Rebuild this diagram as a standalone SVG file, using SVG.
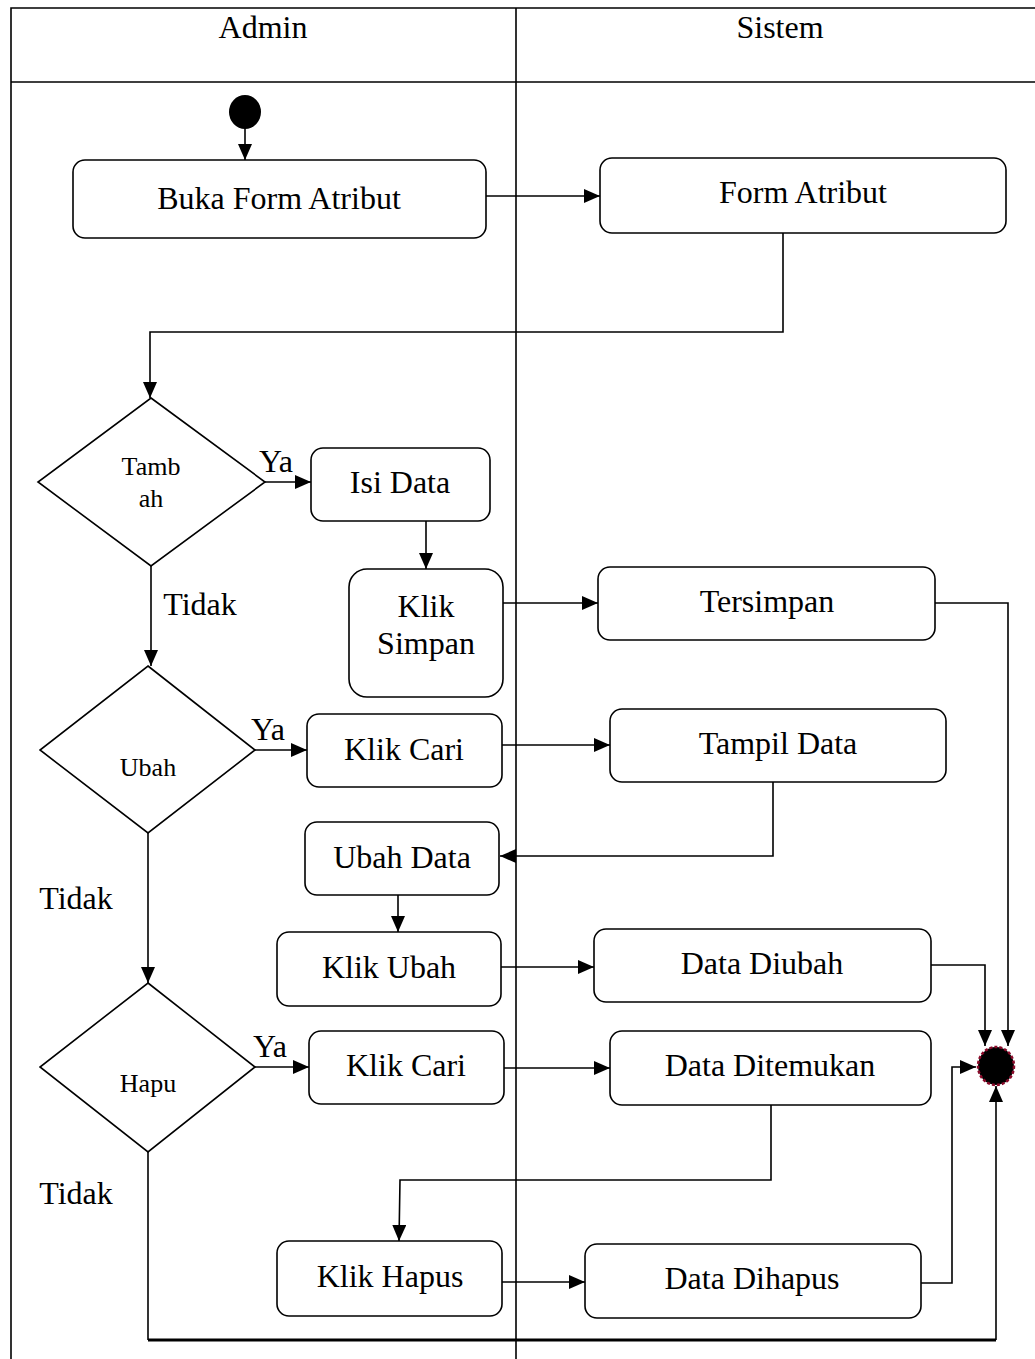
<svg xmlns="http://www.w3.org/2000/svg" width="1035" height="1359" viewBox="0 0 1035 1359">
<style>
.t{font-family:"Liberation Serif","Times New Roman",serif;font-size:32px;fill:#000;text-anchor:middle}
.s{font-size:26px}
.b{fill:#fff;stroke:#000;stroke-width:1.6}
.c{fill:none;stroke:#000;stroke-width:1.6}
.lane{fill:none;stroke:#000;stroke-width:1.6}
</style>
<defs>
<marker id="ar" markerUnits="userSpaceOnUse" markerWidth="16" markerHeight="14" refX="16" refY="7" orient="auto">
<path d="M0,0 L16,7 L0,14 Z" fill="#000"/>
</marker>
</defs>
<rect width="1035" height="1359" fill="#fff"/>
<g id="lanes">
<path class="lane" d="M11,1359 V8 H1035 M11,82 H1035 M516,8 V1359"/>
<text class="t" x="263" y="38">Admin</text>
<text class="t" x="780" y="38">Sistem</text>
</g>
<g id="connectors">
<path class="c" d="M245,128 V160" marker-end="url(#ar)"/>
<path class="c" d="M486,196 H600" marker-end="url(#ar)"/>
<path class="c" d="M783,233 V332 H150 V398" marker-end="url(#ar)"/>
<path class="c" d="M265,482 H311" marker-end="url(#ar)"/>
<path class="c" d="M426,521 V569" marker-end="url(#ar)"/>
<path class="c" d="M503,603 H598" marker-end="url(#ar)"/>
<path class="c" d="M935,603 H1008 V1046" marker-end="url(#ar)"/>
<path class="c" d="M151,566 V666" marker-end="url(#ar)"/>
<path class="c" d="M255,750 H307" marker-end="url(#ar)"/>
<path class="c" d="M502,745 H610" marker-end="url(#ar)"/>
<path class="c" d="M773,782 V856 H500" marker-end="url(#ar)"/>
<path class="c" d="M398,895 V932" marker-end="url(#ar)"/>
<path class="c" d="M501,967 H594" marker-end="url(#ar)"/>
<path class="c" d="M931,965 H985 V1046" stroke-width="2.2" marker-end="url(#ar)"/>
<path class="c" d="M148,833 V983" marker-end="url(#ar)"/>
<path class="c" d="M255,1067 H309" marker-end="url(#ar)"/>
<path class="c" d="M504,1068 H610" marker-end="url(#ar)"/>
<path class="c" d="M771,1105 V1180 H400 L399,1241" marker-end="url(#ar)"/>
<path class="c" d="M502,1282 H585" marker-end="url(#ar)"/>
<path class="c" d="M921,1283 H952 V1067 H976" marker-end="url(#ar)"/>
<path class="c" d="M148,1152 V1340" />
<path d="M148,1340 H996" fill="none" stroke="#000" stroke-width="3"/>
<path class="c" d="M996,1340 V1086" marker-end="url(#ar)"/>
<text class="t" x="276" y="472">Ya</text>
<text class="t" x="200" y="615">Tidak</text>
<text class="t" x="268" y="740">Ya</text>
<text class="t" x="76" y="909">Tidak</text>
<text class="t" x="270" y="1057">Ya</text>
<text class="t" x="76" y="1204">Tidak</text>
</g>
<g id="start"><ellipse cx="245" cy="112" rx="16" ry="17" fill="#000"/></g>
<g id="end"><ellipse cx="996" cy="1066" rx="18" ry="19" fill="#000" stroke="#8b0a2a" stroke-width="2.5" stroke-dasharray="3 2"/></g>
<g id="buka"><rect class="b" x="73" y="160" width="413" height="78" rx="12"/><text class="t" x="279" y="209">Buka Form Atribut</text></g>
<g id="formatribut"><rect class="b" x="600" y="158" width="406" height="75" rx="12"/><text class="t" x="803" y="203">Form Atribut</text></g>
<g id="tambah"><polygon class="b" points="151,398 265,482 151,566 38,482"/><text class="t s" x="151" y="475">Tamb</text><text class="t s" x="151" y="507">ah</text></g>
<g id="isidata"><rect class="b" x="311" y="448" width="179" height="73" rx="12"/><text class="t" x="400" y="493">Isi Data</text></g>
<g id="kliksimpan"><rect class="b" x="349" y="569" width="154" height="128" rx="18"/><text class="t" x="426" y="617">Klik</text><text class="t" x="426" y="654">Simpan</text></g>
<g id="tersimpan"><rect class="b" x="598" y="567" width="337" height="73" rx="12"/><text class="t" x="767" y="612">Tersimpan</text></g>
<g id="ubah"><polygon class="b" points="148,666 255,750 148,833 40,750"/><text class="t s" x="148" y="776">Ubah</text></g>
<g id="klikcari1"><rect class="b" x="307" y="714" width="195" height="73" rx="12"/><text class="t" x="404" y="760">Klik Cari</text></g>
<g id="tampildata"><rect class="b" x="610" y="709" width="336" height="73" rx="12"/><text class="t" x="778" y="754">Tampil Data</text></g>
<g id="ubahdata"><rect class="b" x="305" y="822" width="194" height="73" rx="12"/><text class="t" x="402" y="868">Ubah Data</text></g>
<g id="klikubah"><rect class="b" x="277" y="932" width="224" height="74" rx="12"/><text class="t" x="389" y="978">Klik Ubah</text></g>
<g id="datadiubah"><rect class="b" x="594" y="929" width="337" height="73" rx="12"/><text class="t" x="762" y="974">Data Diubah</text></g>
<g id="hapus"><polygon class="b" points="148,983 255,1067 148,1152 40,1067"/><text class="t s" x="148" y="1092">Hapu</text></g>
<g id="klikcari2"><rect class="b" x="309" y="1031" width="195" height="73" rx="12"/><text class="t" x="406" y="1076">Klik Cari</text></g>
<g id="ditemukan"><rect class="b" x="610" y="1031" width="321" height="74" rx="12"/><text class="t" x="770" y="1076">Data Ditemukan</text></g>
<g id="klikhapus"><rect class="b" x="277" y="1241" width="225" height="75" rx="12"/><text class="t" x="390" y="1287">Klik Hapus</text></g>
<g id="dihapus"><rect class="b" x="585" y="1244" width="336" height="74" rx="12"/><text class="t" x="752" y="1289">Data Dihapus</text></g>
</svg>
